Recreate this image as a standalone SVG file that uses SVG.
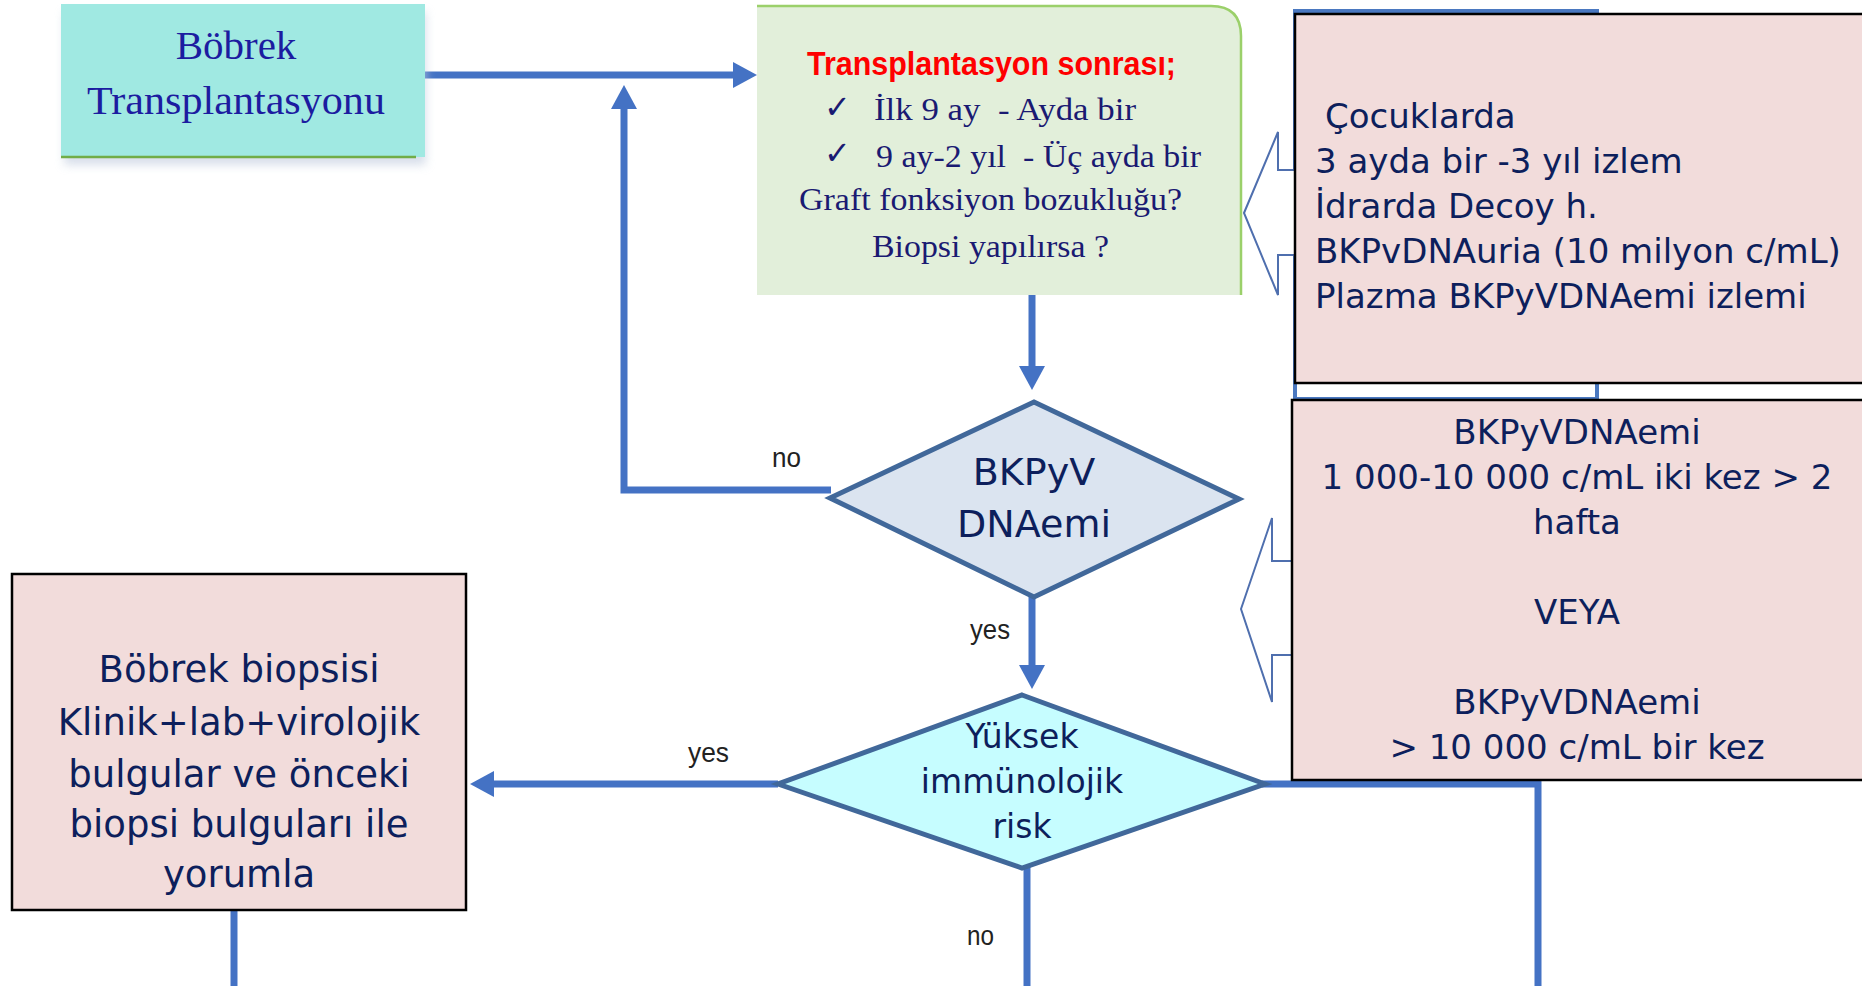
<svg xmlns="http://www.w3.org/2000/svg" width="1862" height="986" viewBox="0 0 1862 986">
<style>
.conn{fill:none;stroke:#4472c4;stroke-width:7;stroke-linejoin:miter}
.pink{fill:#f2dcdb;stroke:#000;stroke-width:2.5}
.comic{font-family:"DejaVu Sans",sans-serif;fill:#0d1f5c}
.serif{font-family:"Liberation Serif",serif;fill:#1a1a72}
.lbl{font-family:"Liberation Sans",sans-serif;font-size:28px;fill:#222}
.diam{stroke:#41689a;stroke-width:5;stroke-linejoin:miter}
.hollow{fill:#fff;stroke:#4f6fae;stroke-width:2}
.chk{font-family:"DejaVu Sans",sans-serif;font-size:32px;fill:#1a1a72}
</style>
<defs>
<marker id="ah" markerUnits="userSpaceOnUse" markerWidth="26" markerHeight="28" refX="12" refY="13" orient="auto">
<path d="M0,0 L24,13 L0,26 Z" fill="#4472c4"/>
</marker>
<filter id="blur" x="-10%" y="-10%" width="120%" height="140%"><feGaussianBlur stdDeviation="5"/></filter>
</defs>
<rect width="1862" height="986" fill="#fff"/>

<g id="bg-frame">
<rect x="1295" y="11" width="302" height="388" fill="none" stroke="#4a78c0" stroke-width="4"/>
</g>

<g id="connectors">
<line class="conn" x1="425" y1="75" x2="745" y2="75" marker-end="url(#ah)"/>
<polyline class="conn" points="831,490 624,490 624,97" marker-end="url(#ah)"/>
<line class="conn" x1="1032" y1="295" x2="1032" y2="378" marker-end="url(#ah)"/>
<line class="conn" x1="1032" y1="597" x2="1032" y2="677" marker-end="url(#ah)"/>
<line class="conn" x1="778" y1="784" x2="482" y2="784" marker-end="url(#ah)"/>
<line class="conn" x1="234" y1="910" x2="234" y2="986"/>
<line class="conn" x1="1027" y1="866" x2="1027" y2="986"/>
<polyline class="conn" points="1262,784 1538,784 1538,986"/>
<text class="lbl" x="772" y="467" textLength="29" lengthAdjust="spacingAndGlyphs">no</text>
<text class="lbl" x="970" y="639" textLength="40" lengthAdjust="spacingAndGlyphs">yes</text>
<text class="lbl" x="688" y="762" textLength="41" lengthAdjust="spacingAndGlyphs">yes</text>
<text class="lbl" x="967" y="945" textLength="27" lengthAdjust="spacingAndGlyphs">no</text>
</g>

<g id="node-bobrek-transplantasyonu">
<rect x="64" y="12" width="362" height="153" fill="#c8d2e2" opacity="0.7" filter="url(#blur)"/>
<rect x="61" y="4" width="364" height="153" fill="#a0e9e2"/>
<line x1="61" y1="157" x2="416" y2="157" stroke="#70ad47" stroke-width="2.5"/>
<text x="236" y="59" text-anchor="middle" font-family="Liberation Serif, serif" font-size="41" fill="#1c1ca0">Böbrek</text>
<text x="87" y="114" font-family="Liberation Serif, serif" font-size="41" fill="#1c1ca0" textLength="298" lengthAdjust="spacingAndGlyphs">Transplantasyonu</text>
</g>

<g id="node-transplantasyon-sonrasi">
<path d="M757,6 H1211 Q1241,6 1241,36 V295 H757 Z" fill="#e2efda"/>
<path d="M757,6 H1211 Q1241,6 1241,36 V295" fill="none" stroke="#9bd06a" stroke-width="2.5"/>
<text x="807" y="75" font-family="Liberation Sans, sans-serif" font-weight="bold" font-size="34" fill="#ff0000" textLength="369" lengthAdjust="spacingAndGlyphs">Transplantasyon sonrası;</text>
<text class="chk" x="824" y="118">✓</text>
<text class="serif" x="874" y="120" font-size="32" textLength="262" lengthAdjust="spacingAndGlyphs" xml:space="preserve">İlk 9 ay  - Ayda bir</text>
<text class="chk" x="824" y="164">✓</text>
<text class="serif" x="876" y="167" font-size="32" textLength="325" lengthAdjust="spacingAndGlyphs" xml:space="preserve">9 ay-2 yıl  - Üç ayda bir</text>
<text class="serif" x="799" y="210" font-size="32" textLength="383" lengthAdjust="spacingAndGlyphs">Graft fonksiyon bozukluğu?</text>
<text class="serif" x="872" y="257" font-size="32" textLength="237" lengthAdjust="spacingAndGlyphs">Biopsi yapılırsa ?</text>
</g>

<g id="node-arrow-cocuklarda">
<polygon class="hollow" points="1244,213 1278,132 1278,170 1297,170 1297,255 1278,255 1278,295"/>
</g>

<g id="node-cocuklarda">
<rect class="pink" x="1295" y="14" width="600" height="369"/>
<g class="comic" font-size="34">
<text x="1325" y="128">Çocuklarda</text>
<text x="1315" y="173">3 ayda bir -3 yıl izlem</text>
<text x="1315" y="218">İdrarda Decoy h.</text>
<text x="1315" y="263">BKPvDNAuria (10 milyon c/mL)</text>
<text x="1315" y="308">Plazma BKPyVDNAemi izlemi</text>
</g>
</g>

<g id="node-arrow-bkpyvdnaemi">
<polygon class="hollow" points="1241,609 1272,518 1272,561 1294,561 1294,655 1272,655 1272,702"/>
</g>

<g id="node-bkpyvdnaemi-kriter">
<rect class="pink" x="1292" y="400" width="600" height="380"/>
<g class="comic" font-size="34" text-anchor="middle">
<text x="1577" y="444">BKPyVDNAemi</text>
<text x="1577" y="489">1 000-10 000 c/mL iki kez &gt; 2</text>
<text x="1577" y="534">hafta</text>
<text x="1577" y="624">VEYA</text>
<text x="1577" y="714">BKPyVDNAemi</text>
<text x="1577" y="759">&gt; 10 000 c/mL bir kez</text>
</g>
</g>

<g id="node-bkpyv-dnaemi">
<polygon class="diam" points="1034,402 1239,499 1034,597 830,498" fill="#dbe4f0"/>
<g class="comic" font-size="38" text-anchor="middle">
<text x="1034" y="485">BKPyV</text>
<text x="1034" y="537">DNAemi</text>
</g>
</g>

<g id="node-yuksek-risk">
<polygon class="diam" points="1022,695 1265,784 1022,868 778,784" fill="#c6fdff"/>
<g class="comic" font-size="33" text-anchor="middle">
<text x="1022" y="748">Yüksek</text>
<text x="1022" y="793">immünolojik</text>
<text x="1022" y="838">risk</text>
</g>
</g>

<g id="node-bobrek-biopsisi">
<rect class="pink" x="12" y="574" width="454" height="336"/>
<g class="comic" font-size="37" text-anchor="middle">
<text x="239" y="682">Böbrek biopsisi</text>
<text x="239" y="735">Klinik+lab+virolojik</text>
<text x="239" y="787">bulgular ve önceki</text>
<text x="239" y="837">biopsi bulguları ile</text>
<text x="239" y="887">yorumla</text>
</g>
</g>
</svg>
